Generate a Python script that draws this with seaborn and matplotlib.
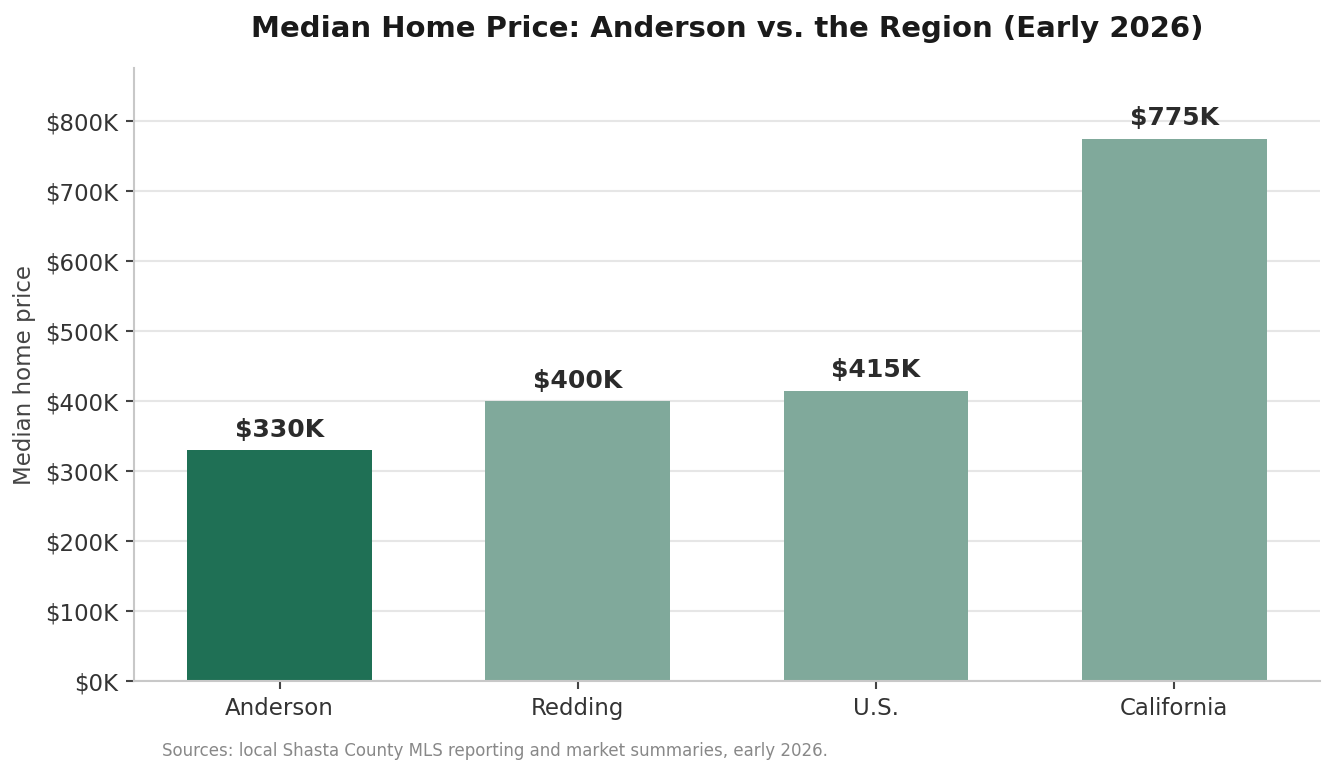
import pandas as pd
import matplotlib.pyplot as plt
import matplotlib.ticker as mticker
import seaborn as sns

areas = ["Anderson", "Redding", "U.S.", "California"]
prices_k = [330, 400, 415, 775]
bar_colors = ["#1f7055", "#80a99b", "#80a99b", "#80a99b"]

df = pd.DataFrame({"area": areas, "price": prices_k})

sns.set_theme(style="whitegrid")
plt.rcParams['font.family'] = ['DejaVu Sans']

fig, ax = plt.subplots(figsize=(8.9, 5.1667), dpi=150)
sns.barplot(data=df, x="area", y="price", hue="area", palette=bar_colors,
            width=0.62, legend=False, ax=ax, saturation=1, linewidth=0)

for i, v in enumerate(prices_k):
    ax.text(i, v + 12, f"${v}K", ha="center", va="bottom",
            fontsize=12, fontweight="bold", color="#2b2b2b")

ax.set_xlim(-0.49, len(areas) - 0.51)
ax.set_ylim(0, max(prices_k) * 1.13)
ax.yaxis.set_major_locator(mticker.MultipleLocator(100))
ax.yaxis.set_major_formatter(mticker.FuncFormatter(lambda v, p: f"${v:.0f}K"))
ax.grid(axis="x", visible=False)
ax.grid(axis="y", color="#e6e6e6", linewidth=1)
ax.set_axisbelow(True)

sns.despine(ax=ax)
for s in ["left", "bottom"]:
    ax.spines[s].set_color("#c8c8c8")
    ax.spines[s].set_linewidth(1)

ax.tick_params(axis="both", which="major", length=4, width=1, color="#444444",
               labelsize=11, labelcolor="#333333", bottom=True, left=True)

ax.set_xlabel("")
ax.set_ylabel("Median home price", fontsize=11, color="#444444")
ax.set_title("Median Home Price: Anderson vs. the Region (Early 2026)",
             fontsize=14, fontweight="bold", color="#1a1a1a", pad=15)

fig.text(0.121, 0.025, "Sources: local Shasta County MLS reporting and market summaries, early 2026.",
         fontsize=8, color="#888888")

plt.subplots_adjust(left=0.1, right=0.989, top=0.912, bottom=0.121)
plt.savefig("out.png", dpi=150)
